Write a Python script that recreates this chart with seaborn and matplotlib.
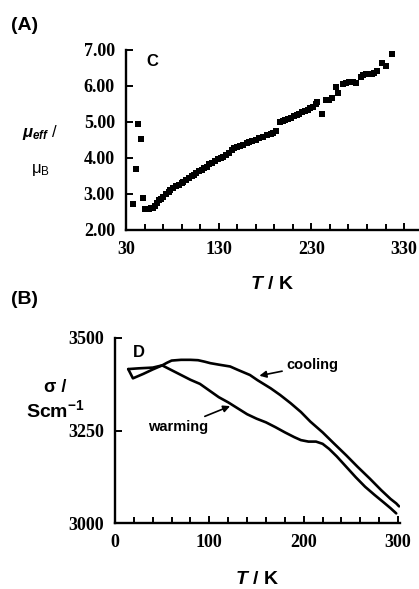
import numpy as np
import pandas as pd
import matplotlib
matplotlib.use("Agg")
import matplotlib.pyplot as plt
import seaborn as sns
from matplotlib.ticker import FixedLocator, FormatStrFormatter

sns.set_style("ticks")
plt.rcParams['font.family'] = ['Liberation Sans', 'DejaVu Sans']
plt.rcParams['mathtext.fontset'] = 'custom'
plt.rcParams['mathtext.rm'] = 'Liberation Sans'
plt.rcParams['mathtext.it'] = 'Liberation Sans:italic:bold'
plt.rcParams['mathtext.bf'] = 'Liberation Sans:bold'
for key in ['text.color', 'axes.labelcolor', 'xtick.color', 'ytick.color', 'axes.edgecolor']:
    plt.rcParams[key] = 'black'

# ===== (A) effective magnetic moment vs T =====
temp_a = [38, 41, 42.6, 45.8, 48.7, 51, 53, 55, 57, 59, 61, 63, 66, 68, 70, 73, 76, 78,
          81, 84, 87, 90, 92, 95, 98, 101, 103, 106, 109, 112, 114, 117, 120, 123,
          126, 129, 132, 135, 138, 141, 144, 147, 150, 153, 156, 160, 163, 166, 170,
          174, 178, 182, 186, 189, 192, 196, 199, 202, 205, 208, 211, 214, 217, 220,
          223, 226, 229, 232, 235, 236, 241, 246, 249, 252, 257, 259, 264, 267, 271,
          275, 278, 283, 286, 289, 292, 295, 298, 301, 306, 311, 317]
mu_eff = [2.71, 3.69, 4.94, 4.53, 2.88, 2.58, 2.58, 2.59, 2.60, 2.62, 2.68, 2.74, 2.82,
          2.87, 2.93, 3.00, 3.06, 3.10, 3.16, 3.21, 3.26, 3.31, 3.34, 3.40, 3.45, 3.50,
          3.53, 3.58, 3.63, 3.68, 3.71, 3.76, 3.82, 3.87, 3.92, 3.96, 3.99, 4.04, 4.09,
          4.15, 4.22, 4.27, 4.31, 4.34, 4.37, 4.41, 4.44, 4.47, 4.50, 4.55, 4.59, 4.63,
          4.67, 4.70, 4.74, 5.00, 5.02, 5.05, 5.09, 5.12, 5.16, 5.20, 5.23, 5.27, 5.30,
          5.34, 5.38, 5.42, 5.50, 5.56, 5.22, 5.60, 5.62, 5.66, 5.98, 5.81, 6.05, 6.08,
          6.10, 6.12, 6.08, 6.25, 6.30, 6.32, 6.33, 6.34, 6.37, 6.42, 6.65, 6.55, 6.88]

# ===== (B) conductivity vs T =====
temp_cool = [14, 25, 40, 50, 55, 60, 70, 80, 88, 95, 101, 110, 122, 130, 143, 151, 165,
             175, 186, 197, 207, 220, 232, 245, 257, 270, 282, 292, 298, 301]
sigma_cool = [3416, 3418, 3420, 3426, 3433, 3439, 3441, 3441, 3440, 3436, 3432, 3428,
              3423, 3414, 3400, 3386, 3364, 3346, 3324, 3300, 3274, 3245, 3215, 3183,
              3152, 3120, 3089, 3065, 3053, 3045]
temp_warm = [14, 19, 30, 40, 50, 60, 70, 80, 90, 100, 110, 120, 130, 140, 150, 160, 170,
             180, 190, 197, 205, 213, 220, 227, 235, 245, 255, 265, 275, 285, 292, 298]
sigma_warm = [3416, 3391, 3403, 3415, 3426, 3413, 3400, 3387, 3376, 3358, 3340, 3326,
              3310, 3294, 3282, 3272, 3259, 3245, 3232, 3224, 3220, 3220, 3214, 3200,
              3180, 3152, 3124, 3098, 3076, 3055, 3040, 3026]

df_a = pd.DataFrame({"T": temp_a, "mu": mu_eff})
df_cool = pd.DataFrame({"T": temp_cool, "sigma": sigma_cool})
df_warm = pd.DataFrame({"T": temp_warm, "sigma": sigma_warm})

W, H = 419, 589
fig = plt.figure(figsize=(W / 100, H / 100), dpi=100)

def px_axes(left, top, right, bottom):
    return fig.add_axes([left / W, 1 - bottom / H, (right - left) / W, (bottom - top) / H])

def style_axes(ax):
    for side in ['top', 'right']:
        ax.spines[side].set_visible(False)
    for side in ['left', 'bottom']:
        ax.spines[side].set_linewidth(1.7)
        ax.spines[side].set_color('black')
    ax.tick_params(which='major', direction='in', length=5, width=1.4, pad=8,
                   bottom=True, left=True, colors='black')
    ax.tick_params(which='minor', direction='in', length=4, width=1.4, bottom=True)
    ax.tick_params(axis='y', which='minor', length=0)
    for lab in ax.get_xticklabels() + ax.get_yticklabels():
        lab.set_fontfamily('Liberation Serif')
        lab.set_fontweight('bold')
        lab.set_fontsize(13)

# ---- panel A ----
ax1 = px_axes(126, 50, 418, 230)
sns.scatterplot(data=df_a, x="T", y="mu", marker='s', s=22, color='black',
                linewidth=0, ax=ax1)
ax1.set_xlim(30, 345)
ax1.set_ylim(2, 7)
ax1.set_xticks([30, 130, 230, 330])
ax1.xaxis.set_minor_locator(FixedLocator(np.arange(30, 346, 20)))
ax1.set_yticks([2, 3, 4, 5, 6, 7])
ax1.yaxis.set_major_formatter(FormatStrFormatter('%.2f'))
ax1.set_xlabel(r"$T$ / K", fontsize=14, fontweight='bold', labelpad=13)
ax1.set_ylabel("")
style_axes(ax1)
ax1.text(58, 6.67, "C", fontsize=12, fontweight='bold', ha='center', va='center')

# ---- panel B ----
ax2 = px_axes(115, 338, 400, 523)
sns.lineplot(data=df_cool, x="T", y="sigma", sort=False, color='black', lw=1.9, ax=ax2)
sns.lineplot(data=df_warm, x="T", y="sigma", sort=False, color='black', lw=1.9, ax=ax2)
ax2.set_xlim(0, 302)
ax2.set_ylim(3000, 3500)
ax2.set_xticks([0, 100, 200, 300])
ax2.xaxis.set_minor_locator(FixedLocator(np.arange(0, 303, 20)))
ax2.set_yticks([3000, 3250, 3500])
ax2.set_xlabel(r"$T$ / K", fontsize=14, fontweight='bold', labelpad=14)
ax2.set_ylabel("")
style_axes(ax2)
ax2.text(25, 3462, "D", fontsize=12, fontweight='bold', ha='center', va='center')
ax2.annotate("cooling", xy=(153, 3398), xytext=(182, 3427), ha='left', va='center',
             fontsize=10.5, fontweight='bold',
             arrowprops=dict(arrowstyle='-|>', color='black', lw=1.2,
                             mutation_scale=10, shrinkA=1, shrinkB=0))
ax2.annotate("warming", xy=(122, 3316), xytext=(67, 3259), ha='center', va='center',
             fontsize=10.5, fontweight='bold',
             arrowprops=dict(arrowstyle='-|>', color='black', lw=1.2,
                             mutation_scale=10, shrinkA=1, shrinkB=0))

# ---- panel letters and y labels ----
fig.text(25 / W, 1 - 25 / H, "(A)", fontsize=14, fontweight='bold', ha='center', va='center')
fig.text(24 / W, 1 - 300 / H, "(B)", fontsize=14, fontweight='bold', ha='center', va='center')

fig.text(40 / W, 1 - 133 / H, r"$\mu_{eff}$ /", fontsize=12, ha='center', va='center')
fig.text(40 / W, 1 - 170 / H, r"$\mathrm{\mu}_{\mathrm{B}}$", fontsize=12, ha='center',
         va='center')
fig.text(55 / W, 1 - 388 / H, "σ /", fontsize=13, fontweight='bold', ha='center', va='center')
fig.text(55 / W, 1 - 410 / H, r"Scm$^{\mathbf{-1}}$", fontsize=14, fontweight='bold',
         ha='center', va='center')

fig.savefig("out.png", dpi=100)
